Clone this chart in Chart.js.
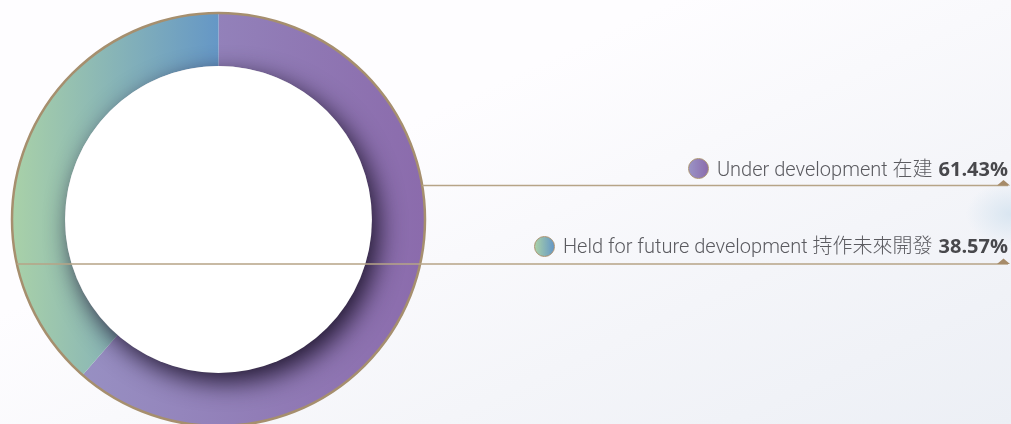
<!DOCTYPE html>
<html>
<head>
<meta charset="utf-8">
<script src="https://cdn.jsdelivr.net/npm/chart.js@4"></script>
<style>
html, body { margin: 0; padding: 0; width: 1011px; height: 424px; overflow: hidden; }
body {
    position: relative;
    background:
        radial-gradient(ellipse 45px 32px at 1011px 214px, rgba(214,228,240,0.9), rgba(214,228,240,0) 100%),
        linear-gradient(155deg, #fefdff 35%, #f4f5f9 70%, #eceff5 100%);
    font-family: Roboto, "Noto Sans CJK TC", sans-serif;
}
#wrap { position: absolute; left: 0; top: 0; width: 1011px; height: 440px; }
.label {
    position: absolute; right: 3px; height: 24px; line-height: 24px;
    display: flex; align-items: center; white-space: nowrap;
    font-size: 20px; font-weight: 300; color: #5b5b60;
}
.label .name { font-family: Roboto, "Noto Sans CJK TC", sans-serif; }
.dot { width: 19px; height: 19px; border-radius: 50%; border: 1.5px solid #a8916f; margin-right: 8px; box-sizing: content-box; }
.pct { font-family: "Open Sans", sans-serif; font-weight: 700; color: #48484c; margin-left: 6px; }
</style>
</head>
<body>
<div id="wrap"><canvas id="landChart"></canvas></div>
<div id="labels"></div>
<script>
// land bank split
const categories = ['Under development 在建', 'Held for future development 持作未來開發'];
const shares = [61.43, 38.57];
const shareLabels = ['61.43%', '38.57%'];

const gradStops = [
    [[0, '#9a97c7'], [1, '#8b6bac']],
    [[0, '#a9d1a8'], [0.5, '#6597c6'], [1, '#4c80c0']]
];
const dotFill = [
    'linear-gradient(90deg, #9a93c5, #8b6cad)',
    'linear-gradient(90deg, #a9d1a8, #6597c6)'
];
const labelTops = [156.5, 234];
const leaderY = [185.5, 264];
const goldLine = '#b6a487';

// legend labels on the right
const holder = document.getElementById('labels');
categories.forEach(function (name, i) {
    const row = document.createElement('div');
    row.className = 'label';
    row.style.top = labelTops[i] + 'px';
    row.innerHTML = '<span class="dot" style="background:' + dotFill[i] + '"></span>' +
        '<span class="name">' + name + '</span><span class="pct">' + shareLabels[i] + '</span>';
    holder.appendChild(row);
});

const ringDecor = {
    id: 'ringDecor',
    afterDatasetsDraw(chart) {
        const arc = chart.getDatasetMeta(0).data[0];
        const p = arc.getProps(['x', 'y', 'innerRadius', 'outerRadius'], true);
        const ctx = chart.ctx;

        // inner shadow cast by the white centre
        ctx.save();
        ctx.beginPath();
        ctx.arc(p.x, p.y, p.outerRadius, 0, Math.PI * 2);
        ctx.clip();
        ctx.shadowColor = 'rgba(34,24,50,1)';
        ctx.shadowBlur = 26;
        ctx.shadowOffsetX = 7;
        ctx.shadowOffsetY = 9;
        ctx.fillStyle = '#ffffff';
        ctx.beginPath();
        ctx.arc(p.x, p.y, p.innerRadius, 0, Math.PI * 2);
        ctx.fill();
        ctx.restore();

        // gold rim
        ctx.save();
        ctx.strokeStyle = '#a68f6e';
        ctx.lineWidth = 2.5;
        ctx.beginPath();
        ctx.arc(p.x, p.y, p.outerRadius, 0, Math.PI * 2);
        ctx.stroke();
        ctx.restore();
    },
    afterDraw(chart) {
        const arc = chart.getDatasetMeta(0).data[0];
        const p = arc.getProps(['x', 'y', 'outerRadius'], true);
        const ctx = chart.ctx;
        const R = p.outerRadius;
        ctx.save();
        ctx.strokeStyle = goldLine;
        ctx.lineWidth = 1.3;
        // first leader starts at the right rim, second crosses the whole ring
        const dy0 = leaderY[0] - p.y, dy1 = leaderY[1] - p.y;
        const x0 = p.x + Math.sqrt(R * R - dy0 * dy0);
        const x1 = p.x - Math.sqrt(R * R - dy1 * dy1);
        ctx.beginPath();
        ctx.moveTo(x0, leaderY[0]); ctx.lineTo(1008, leaderY[0]);
        ctx.moveTo(x1, leaderY[1]); ctx.lineTo(1008, leaderY[1]);
        ctx.stroke();
        ctx.fillStyle = '#a68b69';
        leaderY.forEach(function (ly) {
            ctx.beginPath();
            ctx.moveTo(997, ly);
            ctx.lineTo(1003.5, ly - 5.5);
            ctx.lineTo(1010, ly);
            ctx.closePath();
            ctx.fill();
        });
        ctx.restore();
    }
};

const ctx = document.getElementById('landChart').getContext('2d');
new Chart(ctx, {
    type: 'doughnut',
    data: {
        labels: categories,
        datasets: [{
            data: shares,
            backgroundColor: function (c) {
                const area = c.chart.chartArea;
                if (!area) return '#999';
                const g = c.chart.ctx.createLinearGradient(area.left, 0, area.right, 0);
                gradStops[c.dataIndex].forEach(function (s) { g.addColorStop(s[0], s[1]); });
                return g;
            },
            borderWidth: 0,
            hoverOffset: 0
        }]
    },
    options: {
        responsive: true,
        maintainAspectRatio: false,
        animation: false,
        cutout: '74.3%',
        layout: { padding: { left: 12, right: 586, top: 13, bottom: 14 } },
        plugins: {
            legend: { display: false },
            tooltip: { enabled: false }
        }
    },
    plugins: [ringDecor]
});
</script>
</body>
</html>
